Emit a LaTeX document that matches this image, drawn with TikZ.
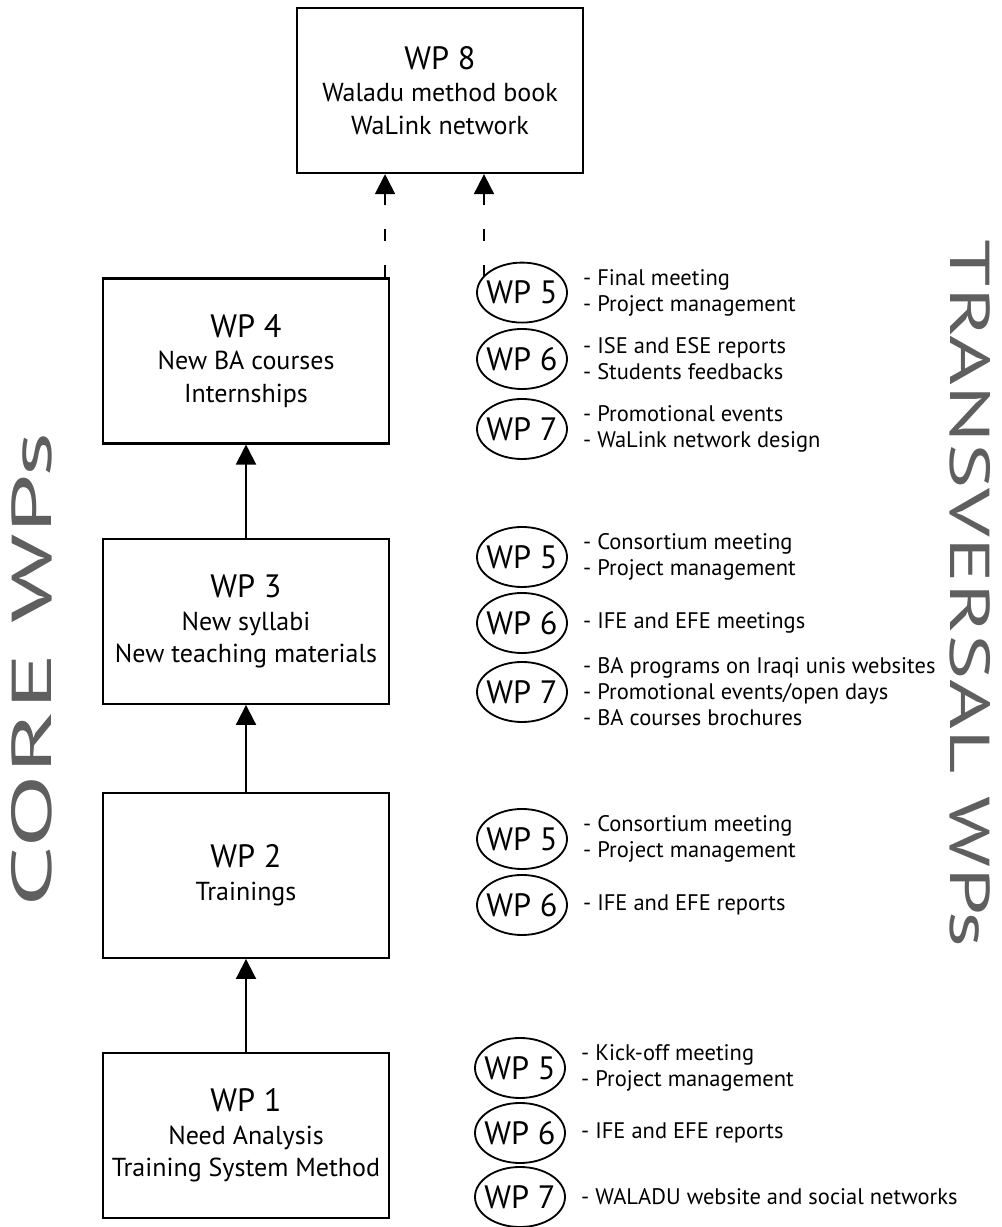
\documentclass[tikz,border=0pt]{standalone}
\usepackage{fontspec}
\usepackage{graphicx}
\setmainfont{PT Sans}
\usetikzlibrary{arrows.meta,shapes.geometric,positioning}
\definecolor{sidegray}{HTML}{5F5F5F}
\newcommand{\wptitle}{\fontsize{23}{28}\selectfont}
\newcommand{\wpsub}{\fontsize{18.5}{23}\selectfont}
\newcommand{\wplist}{\fontsize{16}{18.5}\selectfont}
\newcommand{\wpovalfont}{\fontsize{23}{26}\selectfont}
\newcommand{\wpside}{\fontsize{40}{44}\selectfont}
\tikzset{
	wpbox/.style={draw,line width=1.5pt,minimum width=7.15cm,minimum height=4.125cm,align=center,inner sep=0pt,font=\wpsub},
	wpoval/.style={draw,ellipse,line width=1.3pt,minimum width=2.25cm,minimum height=1.5cm,inner sep=-0.15cm,font=\wpovalfont},
	tasks/.style={align=left,inner sep=0pt,font=\wplist},
	uplink/.style={line width=1.4pt,-{Triangle[width=0.5cm,length=0.5cm]}},
	dashlink/.style={uplink,dash pattern=on 0.3cm off 0.6cm},
	sidelabel/.style={text=sidegray,font=\wpside,inner sep=0pt}
}
\begin{document}
\begin{tikzpicture}
	\useasboundingbox (0,0) rectangle (25.05,30.675);
	\node[wpbox] (wp8) at (11.0,28.41) {{\wptitle WP 8}\\Waladu method book\\WaLink network};
	\node[wpbox] (wp4) at (6.15,21.65) {{\wptitle WP 4}\\New BA courses\\Internships};
	\node[wpbox] (wp3) at (6.15,15.14) {{\wptitle WP 3}\\New syllabi\\New teaching materials};
	\node[wpbox] (wp2) at (6.15,8.79) {{\wptitle WP 2}\\Trainings};
	\node[wpbox] (wp1) at (6.15,2.29) {{\wptitle WP 1}\\Need Analysis\\Training System Method};
	\draw[uplink] (wp1) -- (wp2);
	\draw[uplink] (wp2) -- (wp3);
	\draw[uplink] (wp3) -- (wp4);
	\node[sidelabel,rotate=90] (core) at (0.8,13.93) {\scalebox{1.92}[1]{CORE WPs}};
	\node[sidelabel,rotate=-90] (transv) at (24.25,15.83) {\scalebox{1.52}[1]{TRANSVERSAL WPs}};
	\node[wpoval] (a5) at (13.05,23.36) {WP 5};
	\node[tasks,right=0.375cm of a5] (a5t) {- Final meeting\\- Project management};
	\node[wpoval] (a6) at (13.05,21.7) {WP 6};
	\node[tasks,right=0.375cm of a6] (a6t) {- ISE and ESE reports\\- Students feedbacks};
	\node[wpoval] (a7) at (13.05,19.95) {WP 7};
	\node[tasks,right=0.375cm of a7] (a7t) {- Promotional events\\- WaLink network design};
	\node[wpoval] (b5) at (13.05,16.75) {WP 5};
	\node[tasks,right=0.375cm of b5] (b5t) {- Consortium meeting\\- Project management};
	\node[wpoval] (b6) at (13.05,15.1) {WP 6};
	\node[tasks,right=0.375cm of b6] (b6t) {- IFE and EFE meetings};
	\node[wpoval] (b7) at (13.05,13.375) {WP 7};
	\node[tasks,right=0.375cm of b7] (b7t) {- BA programs on Iraqi unis websites\\- Promotional events/open days\\- BA courses brochures};
	\node[wpoval] (c5) at (13.05,9.7) {WP 5};
	\node[tasks,right=0.375cm of c5] (c5t) {- Consortium meeting\\- Project management};
	\node[wpoval] (c6) at (13.05,8.05) {WP 6};
	\node[tasks,right=0.375cm of c6] (c6t) {- IFE and EFE reports};
	\node[wpoval] (d5) at (13.0,3.975) {WP 5};
	\node[tasks,right=0.375cm of d5] (d5t) {- Kick-off meeting\\- Project management};
	\node[wpoval] (d6) at (13.0,2.35) {WP 6};
	\node[tasks,right=0.375cm of d6] (d6t) {- IFE and EFE reports};
	\node[wpoval] (d7) at (13.0,0.75) {WP 7};
	\node[tasks,right=0.375cm of d7] (d7t) {- WALADU website and social networks};
	\coordinate (w4top) at ([xshift=-0.125cm]wp4.north east);
	\coordinate (a5in) at (12.1,23.75);
	\draw[dashlink] (w4top) -- (w4top |- wp8.south);
	\draw[dashlink] (a5in) -- (a5in |- wp8.south);
\end{tikzpicture}
\end{document}
